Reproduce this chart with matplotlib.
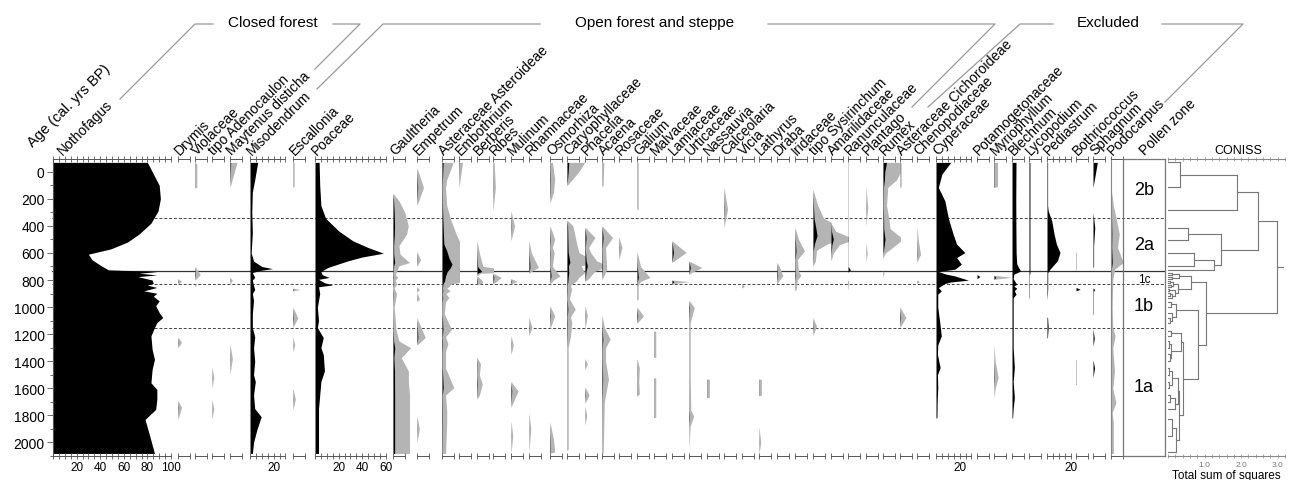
import matplotlib.pyplot as plt
from matplotlib.ticker import MultipleLocator, FuncFormatter

plt.rcParams['font.family'] = ['Liberation Sans', 'DejaVu Sans']

# pollen percentages per taxon as (age cal. yrs BP, %) pairs
nothofagus = [(-69, 80), (100, 90), (200, 91), (290, 89), (380, 83), (460, 73), (520, 63), (570, 49),
              (609, 30), (650, 33), (690, 40), (725, 47), (738, 88), (750, 73), (762, 88), (775, 72),
              (800, 84), (825, 85), (838, 80), (855, 88), (880, 77), (898, 88), (920, 85), (954, 90),
              (990, 87), (1040, 90), (1077, 93), (1115, 88), (1151, 86), (1213, 83), (1312, 84),
              (1386, 86), (1460, 84), (1559, 83), (1608, 88), (1682, 88), (1756, 87), (1830, 78),
              (1953, 82), (2081, 86)]
drymis = [(790, 0), (810, .3), (830, 0), (1220, 0), (1260, .3), (1300, 0), (1690, 0), (1740, .3), (1830, 0)]
violaceae = [(-69, 0), (-60, .15), (115, .15), (120, 0), (700, 0), (760, .45), (800, 0), (830, 0), (840, .1), (850, 0)]
adenocaulon = [(1440, 0), (1520, .15), (1600, 0), (1680, 0), (1750, .15), (1830, 0)]
maytenus = [(-69, .6), (116, 0), (780, 0), (800, .2), (830, 0), (1270, 0), (1380, .2), (1500, 0)]
misodendrum = [(-69, 6.5), (60, 4), (150, 2), (300, 1.5), (450, 2), (600, 1), (660, 3), (700, 10), (716, 19),
               (730, 8), (745, 2), (780, 4), (800, 2), (840, 3), (870, 4), (900, 2), (950, 3), (1050, 2),
               (1150, 2), (1220, 4), (1300, 3), (1400, 4), (1500, 3), (1550, 4.5), (1650, 3), (1750, 4),
               (1810, 9.5), (1900, 6), (2000, 3), (2081, 2)]
escallonia = [(-69, .1), (110, .1), (115, 0), (860, 0), (870, .6), (880, 0), (1000, 0), (1080, .4), (1150, 0),
              (1220, 0), (1280, .15), (1330, 0), (1600, 0), (1680, .2), (1760, 0)]
poaceae = [(-69, 3.5), (100, 4), (250, 5), (344, 9), (437, 20), (510, 32), (560, 45), (602, 58), (630, 40),
           (658, 28), (707, 11), (737, 5), (760, 6), (781, 12), (795, 3), (820, 8), (836, 15), (850, 3),
           (900, 4), (1000, 2), (1100, 3), (1151, 2), (1225, 7), (1300, 5), (1350, 7), (1472, 8), (1550, 5),
           (1650, 4), (1750, 3), (1900, 3), (2081, 3)]
gaultheria = [(160, 0), (215, .5), (300, 1.0), (400, 1.3), (461, 1.15), (547, .5), (609, .6), (671, 1.4),
              (695, .5), (737, .3), (760, .2), (780, .4), (800, .2), (830, .3), (860, .1), (900, .3),
              (1000, .1), (1100, .2), (1164, .25), (1250, .5), (1300, 1.5), (1374, .7), (1472, 1.3),
              (1550, 1.3), (1650, 1.4), (1750, 1.4), (1900, 1.4), (2081, 1.4)]
empetrum = [(-30, 0), (116, .55), (250, 0), (590, 0), (650, .3), (700, 0), (850, 0), (870, .2), (890, 0),
            (940, .2), (960, 0), (1080, 0), (1225, .7), (1280, 0), (1800, 0), (1900, .2), (2000, 0)]
asteroideae = [(-69, .95), (60, .4), (120, .3), (250, .4), (344, .7), (461, 1.2), (535, 1.6), (584, 4),
               (640, 6), (683, 8.5), (710, 7), (737, 4.5), (770, 3), (806, 2.2), (830, .8), (860, .4),
               (880, .7), (900, .3), (930, .6), (960, .3), (1050, .2), (1164, .8), (1220, .3), (1270, .5),
               (1330, .3), (1450, .3), (1595, 1.0), (1650, .3), (1760, .4), (1850, .4), (2081, .3)]
embothrium = [(-69, .3), (116, 0)]
berberis = [(510, 0), (600, .2), (700, .5), (737, 4), (750, .3), (770, 0), (800, .4), (820, .5), (835, 0),
            (1370, 0), (1420, .3), (1500, .2), (1570, .45), (1650, .2), (1680, 0)]
ribes = [(-69, .1), (116, .2), (290, 0), (750, 0), (780, .7), (810, .3), (830, 0)]
mulinum = [(290, 0), (400, .3), (510, 0), (790, 0), (810, .5), (830, 0), (1210, 0), (1280, .2), (1350, 0),
           (1550, 0), (1620, .6), (1740, 0), (1840, 0), (1950, .15), (2081, 0)]
rhamnaceae = [(510, 0), (600, .2), (707, .8), (737, .2), (750, 0), (1077, 0), (1150, .25), (1213, 0),
              (1780, 0), (1900, .15), (2076, 0)]
osmorhiza = [(-69, .2), (50, .4), (150, .3), (230, 0), (400, 0), (498, .4), (560, .2), (600, .35), (700, .2),
             (770, .85), (800, .3), (830, 0), (990, 0), (1065, .4), (1160, 0), (1850, 0), (1980, .3),
             (2070, .4), (2080, 0)]
caryophyllaceae = [(-69, 1.5), (0, 1.0), (103, 0), (357, 0), (400, .5), (522, .8), (596, 1.0), (670, 2.5),
                   (695, 1.2), (745, 1.5), (780, 1.0), (806, .8), (840, .3), (868, .4), (940, .2), (1015, .7),
                   (1070, .3), (1114, .4), (1213, .3), (1300, .1), (2050, .1), (2060, 0)]
phacelia = [(410, 0), (486, .85), (560, .3), (600, .5), (660, 1.0), (695, 2.0), (737, .8), (790, .3), (810, 0),
            (990, 0), (1060, .2), (1160, 0), (1380, 0), (1420, .2), (1460, 0), (1590, 0), (1650, .35),
            (1710, 0), (1730, 0), (1800, .15), (1870, 0)]
acaena = [(-69, .15), (100, .1), (110, 0), (400, 0), (486, .9), (560, .3), (720, .4), (780, .1), (800, 0),
          (1060, 0), (1150, .2), (1237, .7), (1300, .3), (1400, .3), (1533, .55), (1600, .4), (1700, .2),
          (2081, .1)]
rosaceae = [(480, 0), (560, .25), (650, 0)]
galium = [(-69, .1), (276, .1), (280, 0), (590, 0), (700, .3), (781, 1.1), (810, .3), (840, .1), (940, .1),
          (950, 0), (1000, 0), (1065, .55), (1120, 0), (1380, 0), (1450, .2), (1550, .15), (1640, .2), (1660, 0)]
malvaceae = [(1176, 0), (1180, .15), (1370, .15), (1373, 0), (1520, 0), (1525, .15), (1815, .15), (1817, 0)]
lamiaceae = [(510, 0), (596, 1.2), (670, 0), (800, 0), (812, 1.5), (825, .2), (835, 0)]
urticaceae = [(660, 0), (708, 1.1), (745, .2), (760, 0), (950, 0), (1003, .45), (1115, .1), (1500, .1),
              (1760, .15), (1805, .4), (1880, .1), (2050, 0)]
nassauvia = [(1530, 0), (1535, .2), (1665, .2), (1670, 0)]
calceolaria = [(115, 0), (276, .3), (412, 0)]
vicia = [(830, 0), (845, .2), (860, 0)]
lathyrus = [(1530, 0), (1535, .2), (1650, .2), (1655, 0), (1880, 0), (2000, .15), (2081, 0)]
draba = [(670, 0), (700, .2), (770, .5), (800, .2), (830, 0)]
iridaceae = [(412, 0), (500, .3), (585, .8), (650, .2), (737, .3), (765, .5), (800, .2), (870, .1), (880, 0)]
sysirinchum = [(130, 0), (250, .4), (344, .9), (420, 2.5), (473, 3.4), (530, 1.3), (580, .3), (660, .2),
               (700, 0), (1080, 0), (1140, .3), (1210, 0)]
amarilidaceae = [(380, 0), (440, .4), (498, 2.0), (540, .7), (600, .2), (660, 0)]
ranunculaceae = [(-69, .15), (700, .15), (725, 2.0), (737, .3), (745, 0), (800, 0), (810, .3), (860, .1), (875, 0)]
plantago = [(116, 0), (264, .15), (400, 0), (520, 0), (600, .1), (670, 0)]
rumex = [(-69, 3.0), (0, 1.5), (60, 1.15), (116, .4), (250, .3), (350, .5), (420, .6), (498, 1.7), (560, .8),
         (600, .2), (640, 0), (730, 0), (745, .1), (780, 0)]
cichoroideae = [(-69, .1), (110, .1), (116, 0), (1000, 0), (1077, .5), (1150, 0)]
chenopodiaceae = [(400, 0), (500, .1), (609, .3), (670, 0), (800, 0), (812, .2), (825, 0)]
cyperaceae = [(-69, 12.5), (17, 5), (116, 2), (215, 7.5), (344, 10.5), (461, 14.5), (535, 17.5), (597, 24.5),
              (634, 17.5), (683, 21.5), (720, 16), (737, 2), (755, 8), (770, 16), (801, 27.5), (815, 12),
              (826, 7.5), (856, 2), (880, 4.5), (905, 1.5), (1000, 1.5), (1100, 3), (1213, 4.5), (1280, 1.5),
              (1349, 1.2), (1447, 3.5), (1500, 1.2), (1595, 1.5), (1700, 1), (1817, .8), (1820, 0)]
potamogetonaceae = [(760, 0), (774, 2.5), (790, 0)]
myriophyllum = [(-69, .3), (110, .3), (116, 0), (765, 0), (780, 1.5), (795, 0), (1275, 0), (1400, .1),
                (1520, .35), (1600, .1), (1670, 0)]
blechnum = [(-69, 3.4), (200, 3.2), (400, 3.3), (600, 3.5), (680, 4), (707, 5.5), (733, 7.3), (757, 1.5),
            (790, 1), (831, 4), (845, 1.5), (860, 4), (880, 2), (905, 3.5), (930, 1), (1100, 1), (1300, 1),
            (1447, 2), (1550, 1), (1670, 2), (1750, 1), (1817, .5), (1820, 0)]
lycopodium = [(-69, .8), (750, .8), (760, .3), (930, .3), (935, 0)]
pediastrum = [(-69, .5), (250, .5), (289, 1), (362, 4), (461, 6), (535, 8), (597, 11), (658, 8.8), (720, 2.5),
              (745, .6), (860, .6), (900, .4), (950, 0), (1070, 0), (1080, .5), (1150, 1.0), (1225, .4), (1230, 0)]
bothriococcus = [(590, 0), (600, .2), (720, .2), (725, 0), (855, 0), (868, 3.5), (880, 0), (1386, 0),
                 (1390, .2), (1570, .2), (1575, 0)]
sphagnum = [(-69, 3.7), (116, 0), (300, 0), (412, 1.5), (550, .5), (700, .5), (710, 0), (860, 0), (870, 1.5),
            (885, .3), (1050, .3), (1055, 0), (1160, 0), (1230, 1.1), (1290, 0), (1390, 0), (1450, 1.3), (1520, 0)]
podocarpus = [(116, 0), (250, .2), (362, .48), (461, .7), (560, .55), (671, 1.05), (720, .3), (800, .15),
              (1000, .1), (1150, .15), (1213, .35), (1300, .15), (1472, .3), (1600, .15), (1707, .42),
              (1780, .1), (1850, .2), (2081, .2)]

# zonation
dashed_bounds = [344, 833, 1151]
main_bound = 737
zone_names = ['2b', '2a', '1c', '1b', '1a']
zone_mids = [128, 535, 790, 986, 1588]

# CONISS clusters: (left, right, total sum of squares), leaves are sample ages
zone2 = (((-69, 115, 0.33), 281, 1.89),
         ((418, 506, 0.55), ((604, 695, 0.71), 725, 1.26), 1.45), 2.47)
zone1c_b = (((745, 760, 0.10), (775, 790, 0.12), 0.30),
            (((805, 822, 0.05), (838, 852, 0.08), 0.15),
             ((868, 882, 0.04), ((898, 915, 0.05), 935, 0.12), 0.20), 0.28), 0.62)
zone1b_a = (((960, 1000, 0.08), (1040, (1080, 1120, 0.05), 0.10), 0.22),
            (((1176, 1213, 0.08), ((1250, 1300, 0.03), (1350, 1400, 0.05), 0.09), 0.35),
             ((((1450, 1500, 0.04), (1550, 1600, 0.03), 0.12), ((1650, 1700, 0.05), 1750, 0.18), 0.26),
              ((1830, 1950, 0.10), 2070, 0.23), 0.30), 0.41), 0.82)
coniss = (zone2, (zone1c_b, zone1b_a, 1.05), 2.97)

W, H = 1296, 481
TOP, BOT = 160, 457
PX = 1.18          # pixels per percent
EXAG = 10
YLIM = (2100, -94)
GREY = '#b4b4b4'
ZONE_LEFT, ZONE_RIGHT = 1123, 1165

panels = [
    ('Nothofagus', nothofagus, 53, 100, False),
    ('Drymis', drymis, 178, 10, True),
    ('Violaceae', violaceae, 195, 10, True),
    ('tipo Adenocaulon', adenocaulon, 212, 10, True),
    ('Maytenus disticha', maytenus, 230, 10, True),
    ('Misodendrum', misodendrum, 250, 30, False),
    ('Escallonia', escallonia, 293, 10, True),
    ('Poaceae', poaceae, 315, 60, False),
    ('Gaultheria', gaultheria, 393, 10, True),
    ('Empetrum', empetrum, 417, 10, True),
    ('Asteraceae Asteroideae', asteroideae, 442, 10, True),
    ('Embothrium', embothrium, 459, 10, True),
    ('Berberis', berberis, 477, 10, True),
    ('Ribes', ribes, 493, 10, True),
    ('Mulinum', mulinum, 511, 10, True),
    ('Rhamnaceae', rhamnaceae, 529, 10, True),
    ('Osmorhiza', osmorhiza, 550, 10, True),
    ('Caryophyllaceae', caryophyllaceae, 567, 10, True),
    ('Phacelia', phacelia, 585, 10, True),
    ('Acaena', acaena, 602, 10, True),
    ('Rosaceae', rosaceae, 619, 10, True),
    ('Galium', galium, 637, 10, True),
    ('Malvaceae', malvaceae, 654, 10, True),
    ('Lamiaceae', lamiaceae, 672, 10, True),
    ('Urticaceae', urticaceae, 689, 10, True),
    ('Nassauvia', nassauvia, 707, 10, True),
    ('Calceolaria', calceolaria, 724, 10, True),
    ('Vicia', vicia, 742, 10, True),
    ('Lathyrus', lathyrus, 759, 10, True),
    ('Draba', draba, 777, 10, True),
    ('Iridaceae', iridaceae, 795, 10, True),
    ('tipo Sysirinchum', sysirinchum, 813, 10, True),
    ('Amarilidaceae', amarilidaceae, 831, 10, True),
    ('Ranunculaceae', ranunculaceae, 848, 10, False),
    ('Plantago', plantago, 866, 10, True),
    ('Rumex', rumex, 883, 10, True),
    ('Asteraceae Cichoroideae', cichoroideae, 900, 10, True),
    ('Chenopodiaceae', chenopodiaceae, 917, 10, True),
    ('Cyperaceae', cyperaceae, 936, 30, False),
    ('Potamogetonaceae', potamogetonaceae, 977, 10, False),
    ('Myriophyllum', myriophyllum, 994, 10, True),
    ('Blechnum', blechnum, 1012, 10, False),
    ('Lycopodium', lycopodium, 1029, 10, False),
    ('Pediastrum', pediastrum, 1047, 20, False),
    ('Bothriococcus', bothriococcus, 1076, 10, False),
    ('Sphagnum', sphagnum, 1093, 10, False),
    ('Podocarpus', podocarpus, 1111, 10, True),
]


def add_px_axes(x0, x1, y0=TOP, y1=BOT):
    return fig.add_axes([x0 / W, 1 - y1 / H, (x1 - x0) / W, (y1 - y0) / H])


fig = plt.figure(figsize=(W / 100, H / 100), dpi=100)

# overlay in pixel units for headers and rotated taxon names
hdr = fig.add_axes([0, 0, 1, 1])
hdr.set_xlim(0, W)
hdr.set_ylim(H, 0)
hdr.axis('off')

groups = [
    ('Closed forest', 273, [(120, 100), (195, 25), (213, 25)], [(333, 25), (360, 25), (315, 70)]),
    ('Open forest and steppe', 655, [(317, 90), (383, 25), (540, 25)], [(768, 25), (995, 25), (912, 108)]),
    ('Excluded', 1108, [(928, 108), (1020, 25), (1053, 25)], [(1162, 25), (1243, 25), (1165, 103)]),
]
for title, xc, left_line, right_line in groups:
    hdr.text(xc, 23, title, ha='center', va='center', fontsize=11)
    for seg in (left_line, right_line):
        hdr.plot([p[0] for p in seg], [p[1] for p in seg], color='#999999', lw=0.9)

hdr.text(33, 148, 'Age (cal. yrs BP)', rotation=45, rotation_mode='anchor',
         ha='left', va='baseline', fontsize=10.5)
hdr.text(1145, 156, 'Pollen zone', rotation=45, rotation_mode='anchor',
         ha='left', va='baseline', fontsize=10)

# zone boundaries behind the curves
bg = add_px_axes(52, ZONE_RIGHT)
bg.set_ylim(YLIM)
bg.axis('off')
for b in dashed_bounds:
    bg.axhline(b, color='#444444', lw=0.7, ls=(0, (3, 2)))
bg.axhline(main_bound, color='#333333', lw=0.9)

for i, (label, pts, left, amax, exag) in enumerate(panels):
    right = panels[i + 1][2] if i + 1 < len(panels) else ZONE_LEFT
    ax = add_px_axes(left, right)
    ax.set_facecolor('none')
    ax.set_xlim(0, (right - left) / PX)
    ax.set_ylim(YLIM)
    ages = [p[0] for p in pts]
    vals = [p[1] for p in pts]
    if exag:
        ax.fill_betweenx(ages, 0, [v * EXAG for v in vals], color=GREY, lw=0)
    ax.fill_betweenx(ages, 0, vals, color='black', lw=0)

    ax.spines['right'].set_visible(False)
    ax.spines['left'].set_visible(False)
    for s in ('top', 'bottom'):
        ax.spines[s].set_bounds(0, amax)
        ax.spines[s].set_color('#555555')
        ax.spines[s].set_linewidth(0.7)
    ticks = list(range(0, amax + 1, 5)) if amax > 10 else [0, amax]
    ax.set_xticks(ticks)
    ax.set_xticklabels([str(t) if t % 20 == 0 and t > 0 else '' for t in ticks], fontsize=8.5)
    ax.tick_params(axis='x', top=True, bottom=True, labeltop=False, labelbottom=True,
                   direction='inout', length=5, width=0.6, color='#555555', pad=1)
    ax.set_yticks([])

    if i == 0:
        ax.spines['left'].set_visible(True)
        ax.spines['left'].set_color('#555555')
        ax.yaxis.set_major_locator(MultipleLocator(200))
        ax.yaxis.set_minor_locator(MultipleLocator(100))
        ax.set_yticks(range(0, 2001, 200))
        ax.tick_params(axis='y', which='major', length=4, width=0.6, color='#555555',
                       labelsize=10, pad=2)
        ax.tick_params(axis='y', which='minor', length=2, width=0.6, color='#555555')
    if label == 'Podocarpus':
        ax.spines['left'].set_visible(True)
        ax.spines['left'].set_color('#888888')

    lx = left + (10 if i == 0 else 2)
    hdr.text(lx, 156, label, rotation=45, rotation_mode='anchor',
             ha='left', va='baseline', fontsize=10)

# pollen zone column
zax = add_px_axes(ZONE_LEFT, ZONE_RIGHT)
zax.set_facecolor('none')
zax.set_ylim(YLIM)
zax.set_xticks([])
zax.set_yticks([])
for s in zax.spines.values():
    s.set_color('#777777')
    s.set_linewidth(0.9)
for name, mid in zip(zone_names, zone_mids):
    zax.text(0.5, mid, name, transform=zax.get_yaxis_transform(), ha='center', va='center',
             fontsize=8.5 if name == '1c' else 13)

# CONISS dendrogram
cax = add_px_axes(1168, 1285)
cax.set_facecolor('none')
cax.set_xlim(0, 3.2)
cax.set_ylim(YLIM)
cax.set_yticks([])
for s in ('left', 'right'):
    cax.spines[s].set_visible(False)
for s in ('top', 'bottom'):
    cax.spines[s].set_color('#888888')
    cax.spines[s].set_linewidth(0.8)
cax.xaxis.set_major_locator(MultipleLocator(1.0))
cax.xaxis.set_minor_locator(MultipleLocator(0.2))
cax.xaxis.set_major_formatter(FuncFormatter(lambda v, p: '' if v == 0 else f'{v:.1f}'))
cax.tick_params(axis='x', which='both', top=True, bottom=True, direction='inout',
                length=3, width=0.5, color='#888888', labelsize=6, labelcolor='#777777', pad=2)
cax.set_xlabel('Total sum of squares', fontsize=8.5, labelpad=1)
cax.text(0.6, 1.01, 'CONISS', transform=cax.transAxes, ha='center', va='bottom', fontsize=9)


def draw_node(node):
    if not isinstance(node, tuple):
        return node, 0.0
    left, right, h = node
    y1, h1 = draw_node(left)
    y2, h2 = draw_node(right)
    kw = dict(color='#777777', lw=0.8)
    cax.plot([h1, h], [y1, y1], **kw)
    cax.plot([h2, h], [y2, y2], **kw)
    cax.plot([h, h], [y1, y2], **kw)
    return (y1 + y2) / 2, h


ry, rh = draw_node(coniss)
cax.plot([rh, 3.15], [ry, ry], color='#777777', lw=0.8)

plt.savefig('out.png', dpi=100)
